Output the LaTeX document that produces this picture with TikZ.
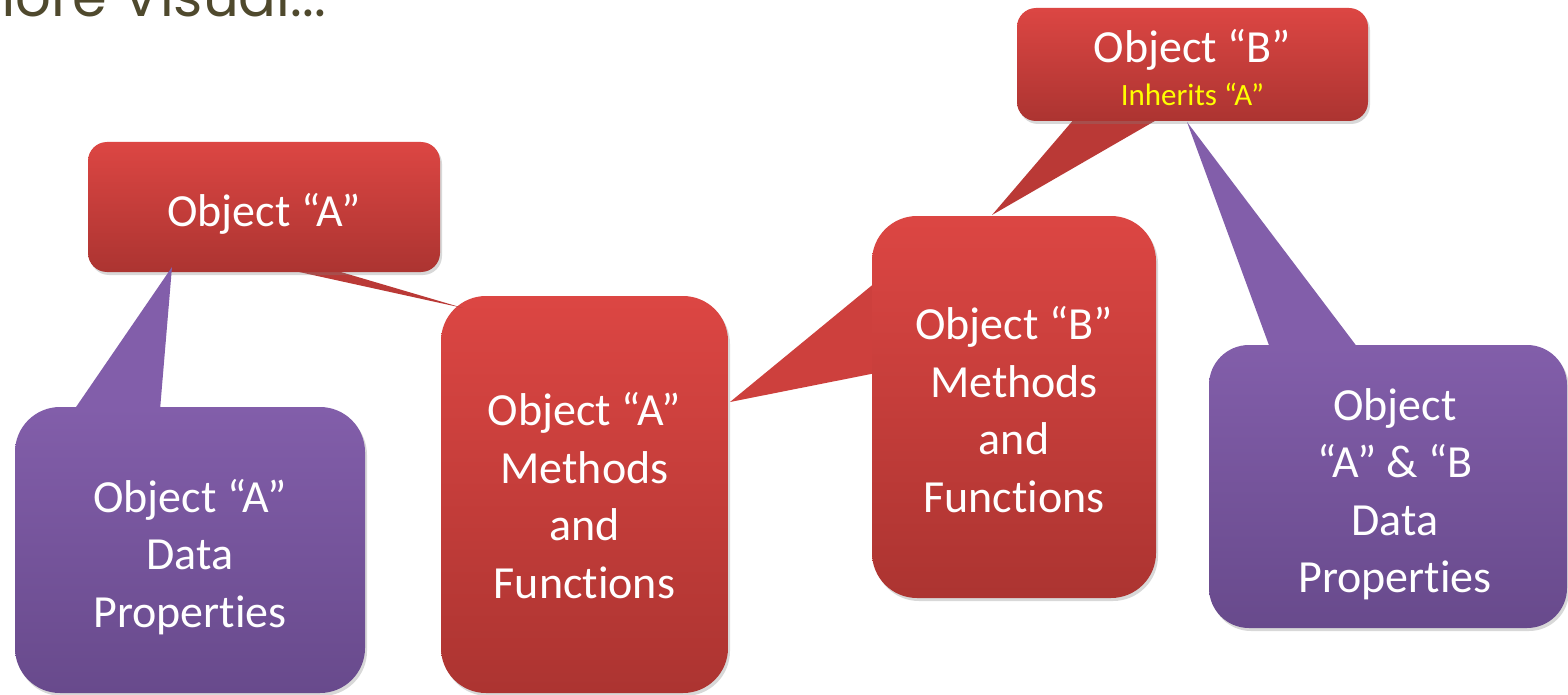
\documentclass[tikz,border=0pt]{standalone}
\usepackage{fontspec}
\setmainfont{Carlito}[Ligatures={NoCommon}]
\newfontfamily\titlefont{Poppins}
\usetikzlibrary{shadows}
\definecolor{redtop}{RGB}{220,70,67}
\definecolor{redbot}{RGB}{172,52,49}
\definecolor{redmid}{RGB}{205,64,61}
\definecolor{redlow}{RGB}{186,57,54}
\definecolor{purtop}{RGB}{130,94,170}
\definecolor{purbot}{RGB}{104,74,140}
\definecolor{titlecol}{RGB}{79,73,45}
\definecolor{inhcol}{RGB}{255,255,0}
\begin{document}
\begin{tikzpicture}[x=1pt,y=-1pt,
  boxbase/.style={inner sep=0pt, draw=none,
    drop shadow={opacity=0.3,shadow xshift=2pt,shadow yshift=-3pt}},
  redbox/.style={boxbase, top color=redtop, bottom color=redbot},
  purbox/.style={boxbase, top color=purtop, bottom color=purbot},
  bigcorner/.style={rounded corners=45pt},
  smallcorner/.style={rounded corners=19pt},
  boxtext/.style={text=white, align=center, inner sep=0pt,
    font=\fontsize{46}{57.5}\selectfont},
  redptr/.style={fill=#1},
  purptr/.style={fill=purtop}
  ]
\clip (0,0) rectangle (1568,695);
\fill[white] (0,0) rectangle (1568,695);

% title (cut at top, as in the reference)
\node[anchor=base east, text=titlecol, inner sep=0pt,
  font=\titlefont\fontsize{56}{60}\selectfont] (title) at (326,17) {More Visual...};

% Object A methods box
\node[redbox, bigcorner, minimum width=287pt, minimum height=397pt] (amf) at (584.5,494.5) {};
\node[boxtext] (amft) at (584.5,495.5) {Object “A”\\Methods\\and\\Functions};

% Object A box with pointer to methods box
\coordinate (pa1) at (290,270);
\coordinate (pa2) at (334,270);
\coordinate (patip) at (463,308);
\fill[redptr=redlow] (pa1) -- (patip) -- (pa2) -- cycle;
\node[redbox, smallcorner, minimum width=352pt, minimum height=130pt] (oa) at (264,207) {};
\node[boxtext] (oat) at (264,213.5) {Object “A”};

% Object A data box with pointer to Object A
\coordinate (p11) at (74,410);
\coordinate (p12) at (160,410);
\coordinate (p1tip) at (172,267);
\fill[purptr] (p11) -- (p1tip) -- (p12) -- cycle;
\node[purbox, bigcorner, minimum width=350pt, minimum height=286pt] (ad) at (190,550) {};
\node[boxtext] (adt) at (190,557) {Object “A”\\Data\\Properties};

% Object B methods box with pointer to Object A methods
\coordinate (p51) at (876,282);
\coordinate (p52) at (876,373);
\coordinate (p5tip) at (730,402);
\fill[redptr=redmid] (p51) -- (p5tip) -- (p52) -- cycle;
\node[redbox, bigcorner, minimum width=284pt, minimum height=382pt] (bmf) at (1014,407) {};
\node[boxtext] (bmft) at (1014,409.5) {Object “B”\\Methods\\and\\Functions};

% Object B box with pointer to Object B methods
\coordinate (pb1) at (1075,118);
\coordinate (pb2) at (1160,118);
\coordinate (pbtip) at (992,215);
\fill[redptr=redlow] (pb1) -- (pbtip) -- (pb2) -- cycle;
\node[redbox, smallcorner, minimum width=351pt, minimum height=113pt] (ob) at (1192.5,64.5) {};
\node[text=white, inner sep=0pt, anchor=base, font=\fontsize{46}{57.5}\selectfont] (obt) at (1192.5,63) {Object “B”};
\node[text=inhcol, inner sep=0pt, anchor=base, font=\fontsize{31}{38}\selectfont] (obs) at (1192.5,106) {Inherits “A”};

% Object A & B data box with pointer to Object B
\coordinate (p71) at (1270,348);
\coordinate (p72) at (1358,348);
\coordinate (p7tip) at (1187,122);
\fill[purptr] (p71) -- (p7tip) -- (p72) -- cycle;
\node[purbox, rounded corners=40pt, minimum width=358pt, minimum height=283pt] (abd) at (1388,486.5) {};
\node[boxtext] (abdt) at (1395,494) {Object\\“A” \& “B\\Data\\Properties};
\end{tikzpicture}
\end{document}
